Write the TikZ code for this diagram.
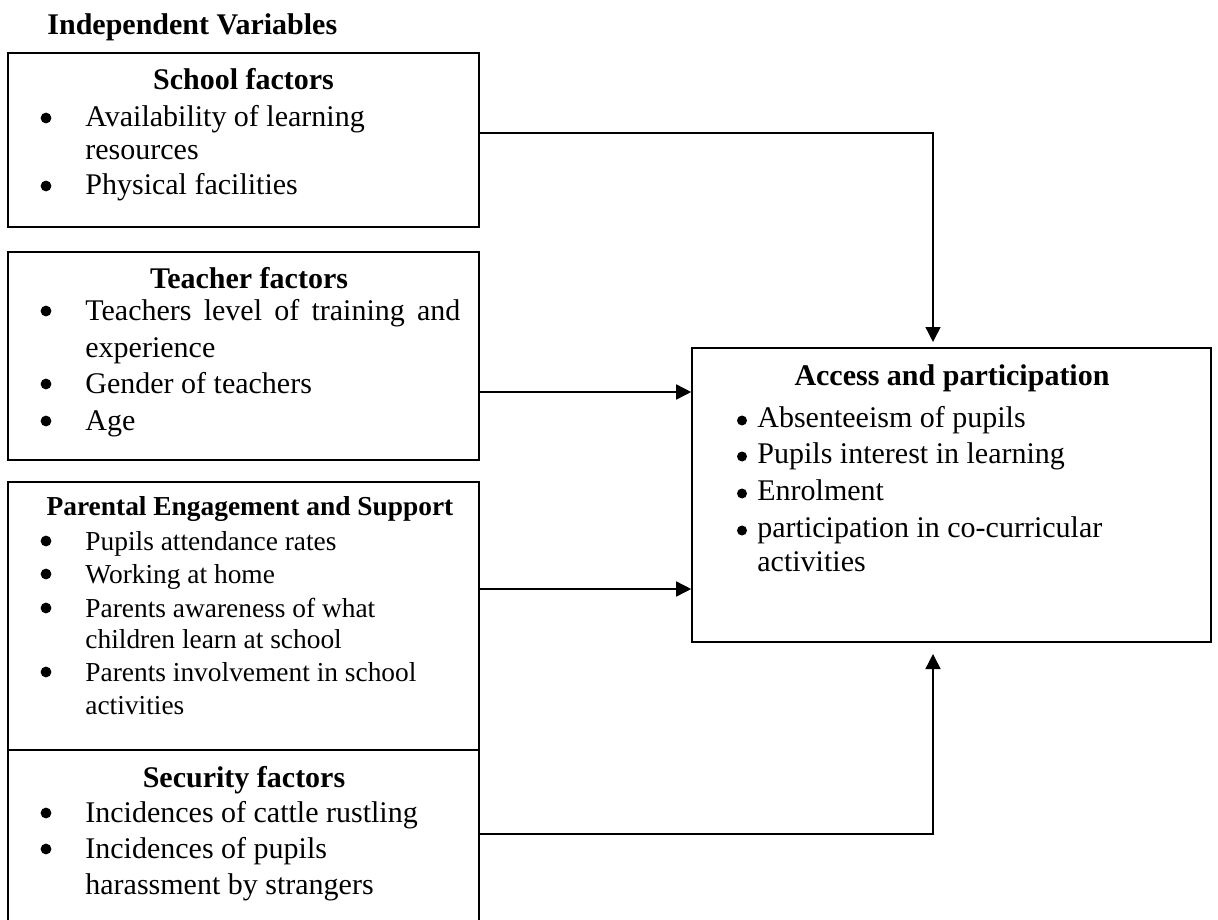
\documentclass[tikz,border=0pt]{standalone}
\usepackage{fontspec}
\setmainfont{Liberation Serif}
\usetikzlibrary{arrows.meta,fit}
\newcommand\bigfs{\fontsize{15pt}{17pt}\selectfont}
\newcommand\smallfs{\fontsize{13.7pt}{16pt}\selectfont}
\newcommand\TL[5][]{\node[txt,#1] (#2) at (#3,#4) {#5};}
\newcommand\BU[4][]{\node[bul,#1] (#2) at (#3,#4-9) {};}
\newcommand\BA[4][]{\node[bul,minimum size=5pt,#1] (#2) at (#3,#4-6.5) {};}
\newcommand\HD[5][]{\node[hd,#1] (#2) at (#3,#4) {#5};}
\tikzset{
  txt/.style={anchor=base west, inner sep=0pt, font=\bigfs},
  bul/.style={circle, fill=black, draw=none, inner sep=0pt, minimum size=5.4pt},
  hd/.style={anchor=base, inner sep=0pt, font=\bigfs\bfseries},
  sm/.style={font=\smallfs},
  smb/.style={font=\smallfs\bfseries},
  box/.style={draw, line width=0.8pt, inner sep=0pt, rectangle},
  arr/.style={line width=0.75pt, -{Triangle[length=7.5pt,width=7.5pt]}},
}
\begin{document}
\begin{tikzpicture}[x=0.5pt,y=-0.5pt]
\useasboundingbox (0,0) rectangle (1218,919);
\clip (0,0) rectangle (1218,919);

% title
\TL{title}{47}{35}{\bfseries Independent Variables}

% boxes
\node[box, fit={(8,53) (479,227)}] (sch) {};
\node[box, fit={(8,252) (479,460)}] (tea) {};
\node[box, fit={(8,482) (479,750)}] (par) {};
\node[box, fit={(8,750) (479,930)}] (sec) {};
\node[box, fit={(692,348) (1211,642)}] (acc) {};

% School factors
\HD{hs}{243.5}{90}{School factors}
\BU{bs1}{46}{127}
\TL{ts1}{85}{127}{Availability of learning}
\TL{ts2}{85}{160}{resources}
\BU{bs3}{46}{195}
\TL{ts3}{85}{195}{Physical facilities}

% Teacher factors
\HD{ht}{249}{288}{Teacher factors}
\BU{bt1}{46}{320}
\TL{tt1}{85}{320}{\makebox[187.5pt][s]{Teachers level of training and}}
\TL{tt2}{85}{357}{experience}
\BU{bt3}{46}{393}
\TL{tt3}{85}{393}{Gender of teachers}
\BU{bt4}{46}{430}
\TL{tt4}{85}{430}{Age}

% Parental engagement
\HD[smb]{hp}{250}{515}{Parental Engagement and Support}
\BU{bp1}{46}{550}
\TL[sm]{tp1}{85}{550}{Pupils attendance rates}
\BU{bp2}{46}{583}
\TL[sm]{tp2}{85}{583}{Working at home}
\BU{bp3}{46}{617}
\TL[sm]{tp3}{85}{617}{Parents awareness of what}
\TL[sm]{tp4}{85}{648}{children learn at school}
\BU{bp5}{46}{681}
\TL[sm]{tp5}{85}{681}{Parents involvement in school}
\TL[sm]{tp6}{85}{714}{activities}

% Security factors
\HD{hsec}{244}{787}{Security factors}
\BU{bsec1}{46}{822}
\TL{tsec1}{85}{822}{Incidences of cattle rustling}
\BU{bsec2}{46}{858}
\TL{tsec2}{85}{858}{Incidences of pupils}
\TL{tsec3}{85}{894}{harassment by strangers}

% Access and participation
\HD{ha}{952}{385}{Access and participation}
\BA{ba1}{742}{427}
\TL{ta1}{757}{427}{Absenteeism of pupils}
\BA{ba2}{742}{463}
\TL{ta2}{757}{463}{Pupils interest in learning}
\BA{ba3}{742}{500}
\TL{ta3}{757}{500}{Enrolment}
\BA{ba4}{742}{537}
\TL{ta4}{757}{537}{participation in co-curricular}
\TL{ta5}{757}{571}{activities}

% connectors
\coordinate (k1) at (933,342);
\coordinate (k4) at (933,654);
\draw[arr] (sch.east |- 0,133) -| (k1);
\draw[arr] (tea.east |- 0,392) -- (acc.west |- 0,392);
\draw[arr] (par.east |- 0,589) -- (acc.west |- 0,589);
\draw[arr] (sec.east |- 0,834) -| (k4);
\end{tikzpicture}
\end{document}
